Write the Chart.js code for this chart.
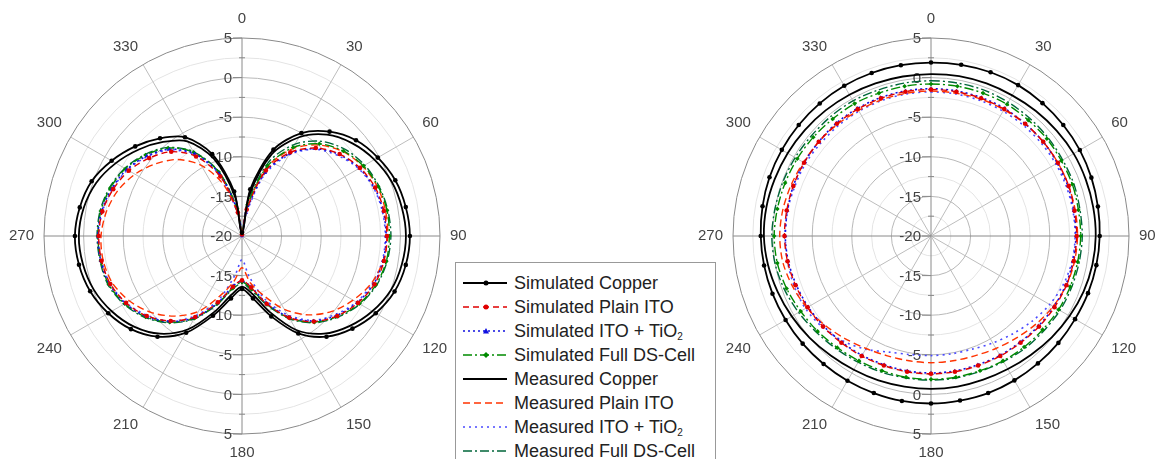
<!DOCTYPE html>
<html>
<head>
<meta charset="utf-8">
<script src="https://cdn.jsdelivr.net/npm/chart.js@4.4.1/dist/chart.umd.min.js"></script>
<style>
  body { margin: 0; width: 1157px; height: 459px; overflow: hidden; background: #fff; position: relative;
         font-family: "Liberation Sans", Arial, sans-serif; }
  .polar { position: absolute; top: 10px; width: 524px; height: 453px; }
  #wrapE { left: -20px; }
  #wrapH { left: 669px; }
  #legend { position: absolute; left: 455px; top: 262px; width: 261px; height: 220px; border: 1px solid #999;
            background: #fff; padding-top: 8px; box-sizing: border-box; z-index: 2; }
  #legend .row { height: 24px; display: flex; align-items: center; font-size: 18px; color: #222; white-space: nowrap; }
  #legend svg { margin-left: 7px; margin-right: 7px; flex: none; }
  #legend sub { font-size: 10px; vertical-align: -3px; }
</style>
</head>
<body>
<div id="wrapE" class="polar"><canvas id="chartE"></canvas></div>
<div id="wrapH" class="polar"><canvas id="chartH"></canvas></div>
<div id="legend"></div>
<script>
// Angles (deg), every 10 degrees
var angles = [0,10,20,30,40,50,60,70,80,90,100,110,120,130,140,150,160,170,
              180,190,200,210,220,230,240,250,260,270,280,290,300,310,320,330,340,350];
var tickValues = [-20, -15, -10, -5, 0, 5];

var seriesNames = ['Simulated Copper', 'Simulated Plain ITO', 'Simulated ITO + TiO<sub>2</sub>', 'Simulated Full DS-Cell',
                   'Measured Copper', 'Measured Plain ITO', 'Measured ITO + TiO<sub>2</sub>', 'Measured Full DS-Cell'];

// E-plane (left plot), dB
var eSimCopper  = [-19.6,-14.0,-8.4,-5.0,-2.8,-1.2,-0.2,0.6,1.0,1.2,1.0,0.5,-0.5,-1.8,-3.4,-5.8,-9.2,-12.0,
                   -13.3,-12.0,-9.3,-5.9,-3.4,-1.7,-0.5,0.4,0.9,1.1,0.8,0.2,-1.0,-2.4,-3.9,-5.6,-9.0,-14.3];
var eSimITO     = [-19.8,-16.6,-11.2,-7.8,-5.5,-3.9,-2.8,-2.1,-1.8,-1.7,-1.8,-2.2,-3.1,-4.3,-5.9,-8.1,-10.9,-13.4,
                   -14.4,-13.5,-11.1,-8.2,-6.0,-4.3,-3.1,-2.3,-2.0,-1.9,-2.1,-2.7,-3.5,-4.7,-6.1,-8.4,-12.0,-17.0];
var eSimTiO2    = [-20.0,-17.0,-11.5,-8.0,-5.6,-4.0,-2.9,-2.2,-1.9,-1.8,-1.9,-2.3,-3.2,-4.4,-6.0,-8.2,-11.0,-13.5,
                   -14.3,-13.6,-11.0,-8.1,-5.9,-4.2,-3.0,-2.2,-1.9,-1.8,-2.0,-2.5,-3.2,-4.3,-5.7,-8.0,-11.6,-16.8];
var eSimDS      = [-19.5,-16.0,-10.6,-7.1,-4.8,-3.3,-2.3,-1.7,-1.4,-1.4,-1.5,-2.0,-2.9,-4.2,-5.8,-8.0,-10.8,-13.2,
                   -14.2,-13.3,-10.9,-8.0,-5.8,-4.1,-2.9,-2.1,-1.9,-1.8,-1.9,-2.3,-3.0,-4.1,-5.5,-7.8,-11.4,-16.5];
var eMeasCopper = [-19.8,-14.8,-9.0,-5.6,-3.3,-1.8,-0.7,0.1,0.5,0.7,0.5,0.0,-1.0,-2.3,-3.9,-6.3,-9.8,-12.6,
                   -13.6,-12.5,-9.8,-6.4,-3.9,-2.2,-1.0,-0.1,0.4,0.6,0.3,-0.4,-1.6,-3.0,-4.5,-6.2,-9.6,-15.0];
var eMeasITO    = [-19.5,-16.3,-10.8,-7.3,-5.0,-3.4,-2.4,-1.8,-1.6,-1.6,-1.9,-2.6,-3.8,-5.2,-7.0,-9.3,-12.0,-14.0,
                   -16.0,-14.2,-12.0,-9.0,-6.8,-5.0,-3.6,-2.6,-2.2,-2.2,-2.6,-3.3,-4.4,-5.8,-7.4,-9.7,-13.0,-17.2];
var eMeasTiO2   = [-19.0,-17.2,-11.8,-8.2,-5.7,-4.2,-3.0,-2.3,-2.0,-1.9,-2.0,-2.5,-3.3,-4.6,-6.1,-8.5,-11.5,-14.8,
                   -17.0,-15.0,-11.5,-8.4,-6.0,-4.4,-3.1,-2.3,-2.0,-1.9,-2.1,-2.6,-3.3,-4.4,-5.8,-8.2,-11.8,-17.2];
var eMeasDS     = [-19.2,-15.5,-10.0,-6.6,-4.4,-3.0,-2.1,-1.6,-1.3,-1.2,-1.4,-1.9,-2.8,-4.1,-5.7,-7.9,-10.7,-13.0,
                   -14.0,-13.2,-10.8,-7.9,-5.7,-4.0,-2.8,-2.0,-1.8,-1.7,-1.8,-2.2,-2.9,-4.0,-5.4,-7.7,-11.3,-16.4];

// H-plane (right plot), dB
var hSimCopper  = [1.9,1.95,2.0,2.0,1.9,1.8,1.7,1.55,1.4,1.3,1.2,1.1,1.0,1.0,1.0,1.05,1.1,1.1,
                   1.15,1.15,1.1,1.1,1.1,1.15,1.2,1.3,1.4,1.5,1.6,1.7,1.75,1.8,1.85,1.9,1.9,1.9];
var hSimITO     = [-1.5,-1.5,-1.5,-1.5,-1.5,-1.5,-1.5,-1.5,-1.6,-1.6,-1.7,-1.8,-2.0,-2.2,-2.4,-2.5,-2.6,-2.6,
                   -2.6,-2.6,-2.6,-2.5,-2.4,-2.2,-2.0,-1.8,-1.6,-1.5,-1.5,-1.5,-1.5,-1.5,-1.5,-1.5,-1.5,-1.5];
var hSimTiO2    = [-1.4,-1.4,-1.4,-1.4,-1.5,-1.5,-1.6,-1.6,-1.7,-1.7,-1.8,-1.9,-2.1,-2.3,-2.5,-2.6,-2.7,-2.7,
                   -2.7,-2.7,-2.7,-2.6,-2.5,-2.3,-2.1,-1.9,-1.7,-1.6,-1.6,-1.5,-1.5,-1.5,-1.4,-1.4,-1.4,-1.4];
var hSimDS      = [-0.8,-0.8,-0.8,-0.8,-0.9,-0.9,-1.0,-1.0,-1.1,-1.1,-1.2,-1.3,-1.4,-1.6,-1.7,-1.8,-1.9,-1.9,
                   -1.9,-1.9,-1.9,-1.8,-1.6,-1.3,-1.0,-0.6,-0.3,-0.2,-0.3,-0.4,-0.5,-0.6,-0.7,-0.7,-0.8,-0.8];
var hMeasCopper = [0.45,0.5,0.5,0.5,0.6,0.7,0.8,0.8,0.8,0.8,0.7,0.5,0.2,-0.1,-0.4,-0.6,-0.7,-0.7,
                   -0.7,-0.7,-0.6,-0.5,-0.3,0.0,0.3,0.6,0.9,1.1,1.1,1.0,0.9,0.8,0.7,0.6,0.5,0.45];
var hMeasITO    = [-1.7,-1.7,-1.6,-1.6,-1.5,-1.5,-1.5,-1.5,-1.5,-1.5,-1.6,-1.8,-2.2,-2.7,-3.2,-3.6,-3.9,-4.0,
                   -4.0,-4.0,-3.9,-3.6,-3.1,-2.5,-1.9,-1.4,-1.0,-0.9,-1.0,-1.2,-1.4,-1.5,-1.6,-1.7,-1.7,-1.7];
var hMeasTiO2   = [-1.8,-1.8,-1.8,-1.8,-1.8,-1.8,-1.8,-1.8,-1.8,-1.8,-1.9,-2.2,-2.7,-3.3,-3.9,-4.4,-4.8,-4.9,
                   -4.9,-4.8,-4.4,-3.5,-2.7,-2.1,-1.7,-1.6,-1.6,-1.6,-1.6,-1.7,-1.7,-1.8,-1.8,-1.8,-1.8,-1.8];
var hMeasDS     = [-0.4,-0.4,-0.4,-0.5,-0.6,-0.7,-0.8,-0.8,-0.9,-0.9,-1.0,-1.1,-1.2,-1.4,-1.5,-1.7,-1.8,-1.8,
                   -1.8,-1.8,-1.7,-1.6,-1.4,-1.1,-0.7,-0.3,0.0,0.1,0.0,-0.1,-0.2,-0.3,-0.3,-0.3,-0.4,-0.4];

// series styles (same order as seriesNames)
var seriesColors = ['#000000', '#e00000', '#1010e0', '#008a00', '#000000', '#ff3300', '#4a4aff', '#00663a'];
var seriesDash   = [[], [6, 4], [2, 3], [9, 3, 2, 3], [], [7, 4], [2, 4], [9, 3, 2, 3]];
var seriesMarker = ['circle', 'circle', 'triangle', 'rectRot', false, false, false, false];
var seriesWidth  = [1.8, 1.4, 1.6, 1.4, 1.8, 1.4, 1.6, 1.4];

var FONT = '"Liberation Sans", Arial, sans-serif';

function buildDatasets(list) {
    return list.map(function (data, i) {
        return {
            label: seriesNames[i].replace(/<[^>]+>/g, ''),
            data: data,
            fill: false,
            borderColor: seriesColors[i],
            backgroundColor: seriesColors[i],
            borderWidth: seriesWidth[i],
            borderDash: seriesDash[i],
            pointStyle: seriesMarker[i] || 'circle',
            pointRadius: seriesMarker[i] ? 2.3 : 0,
            pointBorderWidth: 0,
            pointBackgroundColor: seriesColors[i]
        };
    });
}

// tick labels along the 0 and 180 directions, like the original plot
var axisTicks = {
    id: 'axisTicks',
    beforeDatasetsDraw: function (chart) {
        var s = chart.scales.r, ctx = chart.ctx;
        ctx.save();
        ctx.font = '15px ' + FONT;
        ctx.fillStyle = '#444';
        ctx.strokeStyle = '#888';
        ctx.lineWidth = 1;
        ctx.textAlign = 'right';
        ctx.textBaseline = 'middle';
        tickValues.forEach(function (v, k) {
            var d = s.getDistanceFromCenterForValue(v);
            [-1, 1].forEach(function (dir) {
                if (d === 0 && dir === 1) return;
                var y = s.yCenter + dir * d;
                ctx.beginPath();
                ctx.moveTo(s.xCenter - 9, y); ctx.lineTo(s.xCenter, y);
                ctx.stroke();
                ctx.fillText(String(v), s.xCenter - 10, y + 1);
                // minor tick half way to the next value
                if (k < tickValues.length - 1) {
                    var dm = s.getDistanceFromCenterForValue((v + tickValues[k + 1]) / 2);
                    var ym = s.yCenter + dir * dm;
                    ctx.beginPath();
                    ctx.moveTo(s.xCenter - 3, ym); ctx.lineTo(s.xCenter + 3, ym);
                    ctx.stroke();
                }
            });
        });
        ctx.restore();
    }
};

function makeOptions() {
    return {
        responsive: true,
        maintainAspectRatio: false,
        animation: false,
        plugins: { legend: { display: false }, tooltip: { enabled: false } },
        elements: { line: { tension: 0.3 } },
        scales: {
            r: {
                min: -20,
                max: 5,
                ticks: { display: false, stepSize: 2.5 },
                grid: {
                    circular: true,
                    lineWidth: 1,
                    color: function (c) {
                        var v = c.tick ? c.tick.value : 0;
                        if (v === 5) return '#8a8a8a';
                        return v % 5 === 0 ? '#b8b8b8' : '#e4e4e4';
                    }
                },
                angleLines: {
                    lineWidth: 1,
                    color: function (c) {
                        if (c.index % 9 === 0) return '#8a8a8a';
                        return c.index % 3 === 0 ? '#bdbdbd' : 'rgba(0,0,0,0)';
                    }
                },
                pointLabels: {
                    padding: 10,
                    color: '#444',
                    font: { size: 15, family: FONT },
                    callback: function (label, index) { return index % 3 === 0 ? String(label) : ''; }
                }
            }
        }
    };
}

new Chart(document.getElementById('chartE'), {
    type: 'radar',
    data: {
        labels: angles,
        datasets: buildDatasets([eSimCopper, eSimITO, eSimTiO2, eSimDS, eMeasCopper, eMeasITO, eMeasTiO2, eMeasDS])
    },
    options: makeOptions(),
    plugins: [axisTicks]
});

new Chart(document.getElementById('chartH'), {
    type: 'radar',
    data: {
        labels: angles,
        datasets: buildDatasets([hSimCopper, hSimITO, hSimTiO2, hSimDS, hMeasCopper, hMeasITO, hMeasTiO2, hMeasDS])
    },
    options: makeOptions(),
    plugins: [axisTicks]
});

// legend
var legendEl = document.getElementById('legend');
seriesNames.forEach(function (name, i) {
    var row = document.createElement('div');
    row.className = 'row';
    var c = seriesColors[i];
    var marker = '';
    if (seriesMarker[i] === 'circle') marker = '<circle cx="23" cy="7" r="2.5" fill="' + c + '"/>';
    if (seriesMarker[i] === 'triangle') marker = '<polygon points="23,4 26,9.5 20,9.5" fill="' + c + '"/>';
    if (seriesMarker[i] === 'rectRot') marker = '<polygon points="23,4 26,7 23,10 20,7" fill="' + c + '"/>';
    row.innerHTML = '<svg width="44" height="14"><line x1="0" y1="7" x2="44" y2="7" stroke="' + c +
        '" stroke-width="' + seriesWidth[i] + '" stroke-dasharray="' + seriesDash[i].join(',') + '"/>' + marker +
        '</svg><span>' + name + '</span>';
    legendEl.appendChild(row);
});
</script>
</body>
</html>
